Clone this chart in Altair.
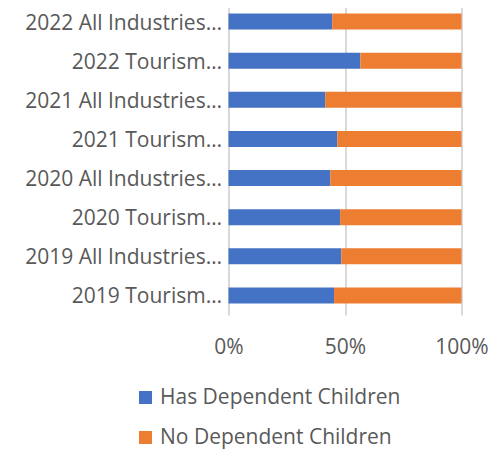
import altair as alt
import pandas as pd

categories = [
    "2022 All Industries…", "2022 Tourism…",
    "2021 All Industries…", "2021 Tourism…",
    "2020 All Industries…", "2020 Tourism…",
    "2019 All Industries…", "2019 Tourism…",
]
has_children = [44.5, 56.6, 41.5, 46.7, 43.7, 47.9, 48.4, 45.3]
no_children = [100 - v for v in has_children]
series = ["Has Dependent Children", "No Dependent Children"]
colors = ["#4472C4", "#ED7D31"]

rows = []
for c, h, n in zip(categories, has_children, no_children):
    rows.append({"cat": c, "series": series[0], "val": h, "ord": 0})
    rows.append({"cat": c, "series": series[1], "val": n, "ord": 1})
df = pd.DataFrame(rows)

FONT = "Open Sans"
TXT = "#595959"
FS = 21

chart = alt.Chart(df).mark_bar().encode(
    y=alt.Y("cat:N", sort=categories, title=None,
            scale=alt.Scale(paddingInner=0.59, paddingOuter=0.295),
            axis=alt.Axis(domain=False, ticks=False, labelFontSize=FS, labelFont=FONT,
                          labelColor=TXT, labelPadding=7, labelLimit=300, labelOffset=2)),
    x=alt.X("val:Q", stack="normalize", title=None,
            scale=alt.Scale(domain=[0, 1], nice=False),
            axis=alt.Axis(format=".0%", values=[0, 0.5, 1], domain=False, ticks=False,
                          grid=True, gridColor="#d9d9d9", gridWidth=2,
                          labelFontSize=FS, labelFont=FONT, labelColor=TXT,
                          labelPadding=21, labelFlush=False)),
    color=alt.Color("series:N", scale=alt.Scale(domain=series, range=colors),
                    legend=alt.Legend(orient="none", legendX=-93.5, legendY=385,
                                      title=None, symbolType="square", symbolSize=169,
                                      symbolStrokeWidth=0, labelFontSize=FS, labelFont=FONT,
                                      labelColor=TXT, rowPadding=18, labelOffset=4,
                                      labelLimit=400, padding=0, direction="vertical")),
    order=alt.Order("ord:Q"),
).properties(
    width=233, height=313,
    autosize=alt.AutoSizeParams(type="none"),
    padding={"left": 220.5, "top": -6, "right": 30.5, "bottom": 135},
).configure_view(stroke=None)

chart.save("out.html", embed_options={"renderer": "svg", "actions": False})
